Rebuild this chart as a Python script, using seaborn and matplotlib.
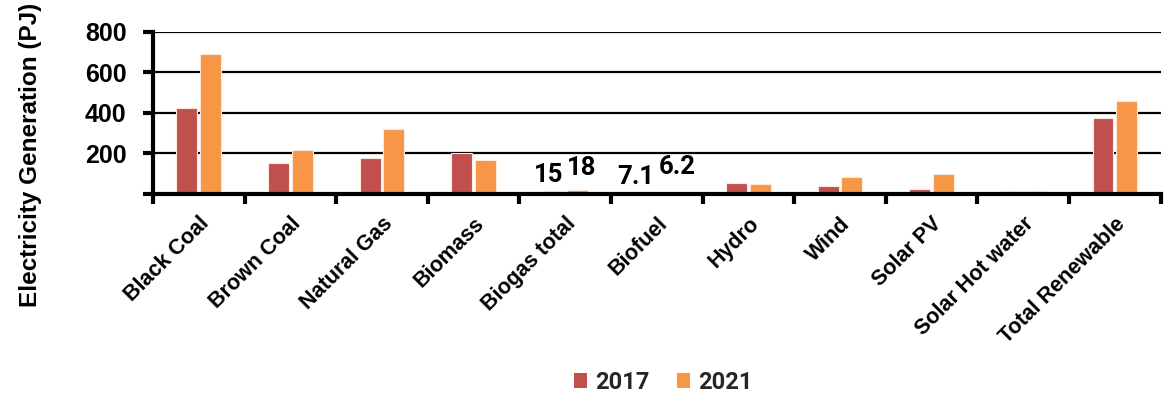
import matplotlib
matplotlib.use("Agg")
import matplotlib.pyplot as plt
import seaborn as sns
import pandas as pd
import numpy as np
from matplotlib.patches import Patch

categories = ["Black Coal", "Brown Coal", "Natural Gas", "Biomass", "Biogas total",
              "Biofuel", "Hydro", "Wind", "Solar PV", "Solar Hot water", "Total Renewable"]
years = ["2017", "2021"]
values_2017 = [425, 153, 178, 202, 15, 7.1, 54, 40, 25, 13, 375]
values_2021 = [691, 217, 321, 168, 18, 6.2, 50, 84, 97, 16, 459]
yticks = [200, 400, 600, 800]
colors = {"2017": "#C0504D", "2021": "#F79646"}

# Value labels shown for the small bars (category, year, value, pixel offset)
labeled = [("Biogas total", "2017", 15, (-5, 4)),
           ("Biogas total", "2021", 18, (5, 10)),
           ("Biofuel", "2017", 7.1, (-9, 3)),
           ("Biofuel", "2021", 6.2, (9, 14))]

df = pd.DataFrame({
    "Category": categories * 2,
    "Year": [years[0]] * len(categories) + [years[1]] * len(categories),
    "Value": values_2017 + values_2021,
})

sns.set_theme(style="white")
plt.rcParams["font.family"] = ["Liberation Sans", "DejaVu Sans"]

fig = plt.figure(figsize=(11.76, 3.94), dpi=100)
ax = fig.add_axes([0.130, 0.508, 0.857, 0.411])

sns.barplot(data=df, x="Category", y="Value", hue="Year", palette=colors,
            order=categories, hue_order=years, width=0.52, gap=0.12, saturation=1,
            edgecolor="#FDE9D9", linewidth=0.8, legend=False, ax=ax)

ax.set_xlim(-0.5, len(categories) - 0.5)
ax.set_ylim(0, 800)
ax.set_yticks([0] + yticks)
ax.set_yticklabels([""] + [str(v) for v in yticks])
for y in yticks:
    ax.axhline(y, color="black", lw=1.6, zorder=0)

for s in ["top", "right"]:
    ax.spines[s].set_visible(False)
for s in ["left", "bottom"]:
    ax.spines[s].set_color("black")
    ax.spines[s].set_linewidth(3)
ax.spines["bottom"].set_zorder(5)

# Category ticks at boundaries, labels centred
ax.set_xticks(np.arange(len(categories)))
ax.set_xticks(np.arange(len(categories) + 1) - 0.5, minor=True)
ax.tick_params(axis="x", which="major", length=0, pad=14)
ax.tick_params(axis="x", which="minor", length=7, width=3, color="black", direction="out", bottom=True)
ax.tick_params(axis="y", length=7, width=3, color="black", direction="out", left=True, pad=12)
ax.set_xticklabels(categories, rotation=45, ha="right", rotation_mode="anchor",
                   fontsize=15.5, fontweight="bold", color="black")
for lbl in ax.get_yticklabels():
    lbl.set_fontsize(18)
    lbl.set_fontweight("bold")
    lbl.set_color("black")

ax.set_xlabel("")
ax.set_ylabel("Electricity Generation (PJ)", fontsize=17.5, fontweight="bold", color="black")
ax.yaxis.set_label_coords(-0.110, 0.24)

# Value labels on the small bars
n = len(categories)
bars = ax.patches
for cat, yr, val, (dx, dy) in labeled:
    idx = years.index(yr) * n + categories.index(cat)
    b = bars[idx]
    ax.annotate(f"{val:g}", xy=(b.get_x() + b.get_width() / 2, val),
                xytext=(dx, dy), textcoords="offset pixels",
                ha="center", va="bottom", fontsize=18.5, fontweight="bold",
                family="Roboto", color="black")

handles = [Patch(facecolor=colors[y], edgecolor="none") for y in years]
fig.legend(handles, years, loc="center", bbox_to_anchor=(0.564, 0.03), ncol=2,
           frameon=False, prop={"family": "Roboto", "weight": "bold", "size": 17},
           handlelength=0.55, handleheight=0.6, handletextpad=0.35, columnspacing=1.15,
           borderpad=0, borderaxespad=0)

fig.savefig("out.png", dpi=100)
